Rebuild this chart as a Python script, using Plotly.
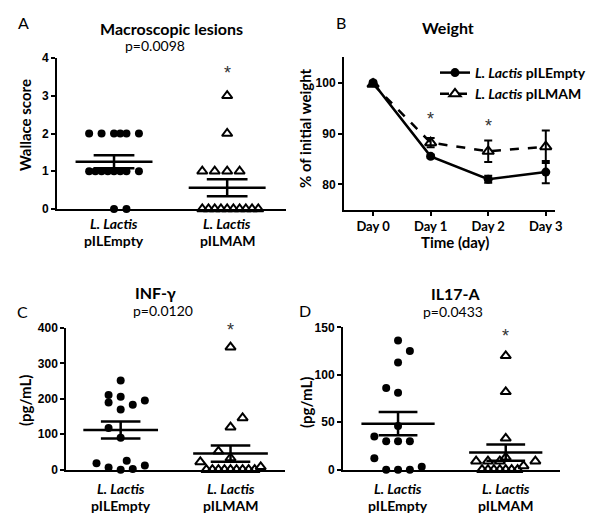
import numpy as np
import plotly.graph_objects as go

# ---------------- data ----------------
group_species = ["L. Lactis", "L. Lactis"]
group_plasmid = ["pILEmpty", "pILMAM"]

# Panel A: Macroscopic lesions (Wallace score)
wallace_empty = [2, 2, 2, 2, 2, 2, 1, 1, 1, 1, 1, 1, 1, 1, 0, 0]
wallace_empty_slot = [-4, -2, 0, 1, 2, 4, -4, -3, -2, -1, 0, 1, 2, 4, 0, 2]
wallace_mam = [3, 2, 1, 1, 1, 1, 0, 0, 0, 0, 0, 0, 0, 0, 0, 0]
wallace_mam_slot = [0, 0, -4, -2, 0, 2, -4, -3, -2, -1, 0, 1, 2, 3, 4, 5]

# Panel B: Weight (% of initial)
days = ["Day 0", "Day 1", "Day 2", "Day 3"]
weight_empty = [100.0, 85.5, 81.0, 82.4]
weight_empty_sem = [0.3, 0.3, 0.7, 2.2]
weight_mam = [99.7, 88.2, 86.5, 87.4]
weight_mam_sem = [0.3, 0.9, 2.1, 3.2]
weight_star_days = ["Day 1", "Day 2"]
weight_star_y = [92.9, 91.5]

# Panel C: INF-gamma (pg/mL)
ifn_empty = [252, 211, 190, 206, 195, 183, 170, 118, 90, 18, 6, 0, 25, 2, 12]
ifn_empty_slot = [0, -2, -2, 0, 4, 2, 0, -2, 0, -4, -2, 0, 1, 2, 4]
ifn_mam = [346, 146, 120, 52, 33, 22, 8, 0, 0, 0, 0, 0, 0, 0, 0, 0]
ifn_mam_slot = [0, 2, 0, -2, 0, -5, 5, -4, -3, -2, -1, 0, 1, 2, 3, 4]

# Panel D: IL17-A (pg/mL)
il17_empty = [136, 125, 113, 86, 81, 46, 35, 30, 30, 30, 12, 0, 0, 0, 3]
il17_empty_slot = [0, 2, 0, -2, 0, 0, -4, -2, 0, 2, -4, -2, 0, 2, 4]
il17_mam = [120, 82, 33, 13, 9, 9, 9, 9, 4, 0, 0, 0, 0, 0, 0, 0]
il17_mam_slot = [0, 0, 0, 0, -1, -5, -3, 5, 3, -4, -3, -2, -1, 0, 1, 2]

# ---------------- style ----------------
TXT = "Lato, 'Open Sans', sans-serif"
NUM = "'Liberation Sans', Arial, sans-serif"
SLOT = 0.055
MEAN_HW = 0.34
SEM_HW = 0.18
LW = 2.5

fig = go.Figure()


def column_scatter(values, slots, gi, xa, ya, symbol):
    x = [gi + s * SLOT for s in slots]
    if symbol == "circle":
        mk = dict(symbol="circle", size=8, color="black")
    else:
        mk = dict(symbol="triangle-up-open", size=9, color="black",
                  line=dict(width=2, color="black"))
    fig.add_trace(go.Scatter(x=x, y=values, mode="markers", marker=mk,
                             xaxis=xa, yaxis=ya, showlegend=False,
                             cliponaxis=False, hoverinfo="skip"))
    v = np.array(values, dtype=float)
    m = v.mean()
    sem = v.std(ddof=1) / np.sqrt(len(v))
    ln = dict(color="black", width=LW)
    # mean line
    fig.add_trace(go.Scatter(x=[gi - MEAN_HW, gi + MEAN_HW], y=[m, m], mode="lines",
                             line=ln, xaxis=xa, yaxis=ya, showlegend=False,
                             hoverinfo="skip", cliponaxis=False))
    # SEM whiskers
    fig.add_trace(go.Scatter(
        x=[gi - SEM_HW, gi + SEM_HW, None, gi - SEM_HW, gi + SEM_HW, None, gi, gi],
        y=[m + sem, m + sem, None, m - sem, m - sem, None, m - sem, m + sem],
        mode="lines", line=ln, xaxis=xa, yaxis=ya, showlegend=False,
        hoverinfo="skip", cliponaxis=False))


column_scatter(wallace_empty, wallace_empty_slot, 0, "x", "y", "circle")
column_scatter(wallace_mam, wallace_mam_slot, 1, "x", "y", "triangle")
column_scatter(ifn_empty, ifn_empty_slot, 0, "x3", "y3", "circle")
column_scatter(ifn_mam, ifn_mam_slot, 1, "x3", "y3", "triangle")
column_scatter(il17_empty, il17_empty_slot, 0, "x4", "y4", "circle")
column_scatter(il17_mam, il17_mam_slot, 1, "x4", "y4", "triangle")

# Panel B lines
fig.add_trace(go.Scatter(
    x=days, y=weight_empty, mode="lines+markers",
    name="<b><i>" + group_species[0] + "</i> " + group_plasmid[0] + "</b>",
    line=dict(color="black", width=LW),
    marker=dict(symbol="circle", size=9, color="black"),
    error_y=dict(type="data", array=weight_empty_sem, color="black", thickness=2, width=4),
    xaxis="x2", yaxis="y2", cliponaxis=False))
fig.add_trace(go.Scatter(
    x=days, y=weight_mam, mode="lines+markers",
    name="<b><i>" + group_species[1] + "</i> " + group_plasmid[1] + "</b>",
    line=dict(color="black", width=LW, dash="dash"),
    marker=dict(symbol="triangle-up-open", size=10, color="black",
                line=dict(width=2, color="black")),
    error_y=dict(type="data", array=weight_mam_sem, color="black", thickness=2, width=4),
    xaxis="x2", yaxis="y2", cliponaxis=False))


def px(x):
    return x / 600.0


def py(y):
    return 1 - y / 515.0


axis_common = dict(showline=True, linecolor="black", linewidth=2, showgrid=False,
                   zeroline=False, ticks="outside", tickwidth=2, ticklen=4,
                   tickcolor="black", automargin=False)
cat_x = dict(axis_common, tickvals=[0, 1], showticklabels=False, ticks="")
num_y = dict(axis_common, tickfont=dict(family=NUM, size=12, color="black", weight="bold"))

fig.update_layout(
    width=600, height=515, autosize=False,
    margin=dict(l=0, r=0, t=0, b=0, pad=0, autoexpand=False),
    paper_bgcolor="white", plot_bgcolor="white",
    xaxis=dict(cat_x, domain=[px(49), px(278)], range=[-0.504, 1.52], anchor="y"),
    yaxis=dict(num_y, domain=[py(201), py(50)], range=[0, 4], tickvals=[0, 1, 2, 3, 4], anchor="x"),
    xaxis2=dict(axis_common, domain=[px(336), px(547)], range=[-0.505, 3.16], anchor="y2",
                type="category",
                tickfont=dict(family=TXT, size=13, color="black", weight="bold")),
    yaxis2=dict(num_y, domain=[py(201.7), py(49.3)], range=[75, 105], tickvals=[80, 90, 100],
                anchor="x2"),
    xaxis3=dict(cat_x, domain=[px(58.3), px(277)], range=[-0.495, 1.496], anchor="y3"),
    yaxis3=dict(num_y, domain=[py(461.7), py(320)], range=[0, 400],
                tickvals=[0, 100, 200, 300, 400], anchor="x3"),
    xaxis4=dict(cat_x, domain=[px(335), px(551.7)], range=[-0.511, 1.501], anchor="y4"),
    yaxis4=dict(num_y, domain=[py(461.7), py(319.3)], range=[0, 150],
                tickvals=[0, 50, 100, 150], anchor="x4"),
    legend=dict(x=px(427), y=py(49), xanchor="left", yanchor="top",
                bgcolor="rgba(0,0,0,0)", itemwidth=30,
                font=dict(family=TXT, size=14, color="black"), tracegroupgap=0),
    showlegend=True,
)

ann = []


def text(x, y, t, size=14, bold=False, angle=0):
    s = "<b>" + t + "</b>" if bold else t
    ann.append(dict(x=px(x), y=py(y), xref="paper", yref="paper", text=s,
                    showarrow=False, xanchor="center", yanchor="middle",
                    textangle=angle, font=dict(family=TXT, size=size, color="black")))


text(15, 14, "A", 16)
text(163, 21, "Macroscopic lesions", 16, True)
text(147, 37, "p=0.0098", 14)
text(17, 117, "Wallace score", 15, True, -90)

text(333, 15, "B", 16)
text(440, 20, "Weight", 16, True)
text(297, 120, "% of initial weight", 15, True, -90)
text(447, 233.5, "Time (day)", 15, True)

text(14, 303, "C", 16)
text(147, 284, "INF-γ", 16, True)
text(155, 302, "p=0.0120", 14)
text(17, 393, "(pg/mL)", 15, True, -90)

text(297, 302, "D", 16)
text(448, 285, "IL17-A", 16, True)
text(445, 303, "p=0.0433", 14)
text(298, 395, "(pg/mL)", 15, True, -90)


# category labels (two lines) placed on the categorical x positions
def cat_labels(xr, y1, y2):
    for gi in range(len(group_plasmid)):
        ann.append(dict(x=gi, y=py(y1), xref=xr, yref="paper",
                        text="<b><i>" + group_species[gi] + "</i></b>", showarrow=False,
                        xanchor="center", yanchor="middle",
                        font=dict(family=TXT, size=14, color="black")))
        ann.append(dict(x=gi, y=py(y2), xref=xr, yref="paper",
                        text="<b>" + group_plasmid[gi] + "</b>", showarrow=False,
                        xanchor="center", yanchor="middle",
                        font=dict(family=TXT, size=14, color="black")))


cat_labels("x", 215.5, 232.5)
cat_labels("x3", 480, 497)
cat_labels("x4", 480, 497.5)


# significance stars
def star(x, y, xr, yr):
    ann.append(dict(x=x, y=y, xref=xr, yref=yr, text="*", showarrow=False,
                    xanchor="center", yanchor="middle",
                    font=dict(family="'Liberation Sans', Arial, sans-serif", size=18,
                              color="#333333")))


star(1, 3.6, "x", "y")
star(1, 395, "x3", "y3")
star(1, 141, "x4", "y4")
for d, yv in zip(weight_star_days, weight_star_y):
    star(d, yv, "x2", "y2")

fig.update_layout(annotations=ann)
fig.write_html("out.html")
